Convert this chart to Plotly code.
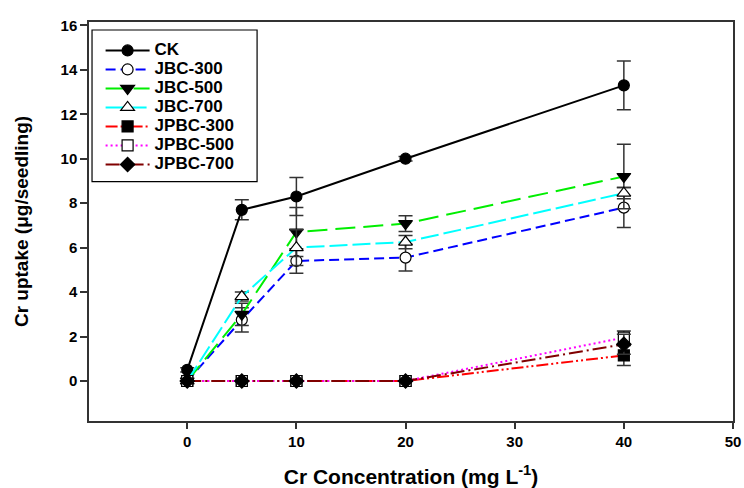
import plotly.graph_objects as go

# Cr concentration in the growth medium (mg/L)
conc = [0, 5, 10, 20, 40]

# Cr uptake (ug/seedling) and standard errors for each treatment
ck = [0.5, 7.7, 8.3, 10.0, 13.3]
ck_err = [0.1, 0.45, 0.85, 0.1, 1.1]

jbc300 = [0.0, 2.75, 5.4, 5.55, 7.8]
jbc300_err = [None, 0.55, 0.55, 0.6, 0.9]

jbc500 = [0.0, 3.0, 6.7, 7.08, 9.2]
jbc500_err = [None, 0.5, 1.1, 0.35, 1.45]

jbc700 = [0.0, 3.8, 6.0, 6.25, 8.45]
jbc700_err = [None, 0.2, 0.8, 0.3, 0.25]

jpbc300 = [0.0, 0.0, 0.0, 0.0, 1.15]
jpbc300_err = [None, None, None, None, 0.45]

jpbc500 = [0.0, 0.0, 0.0, 0.0, 1.95]
jpbc500_err = [None, None, None, None, 0.3]

jpbc700 = [0.0, 0.0, 0.0, 0.0, 1.65]
jpbc700_err = [None, None, None, None, 0.45]

x_ticks = [0, 10, 20, 30, 40, 50]
y_ticks = [0, 2, 4, 6, 8, 10, 12, 14, 16]

FONT = "Arial, Liberation Sans, sans-serif"

series = [
    ("CK", ck, ck_err, "#000000", "solid", "circle"),
    ("JBC-300", jbc300, jbc300_err, "#0000ff", "10px,5px", "circle-open"),
    ("JBC-500", jbc500, jbc500_err, "#00ee00", "20px,8px", "triangle-down"),
    ("JBC-700", jbc700, jbc700_err, "#00ffff", "18px,5px", "triangle-up-open"),
    ("JPBC-300", jpbc300, jpbc300_err, "#ff0000", "12px,3px,2px,3px,2px,3px", "square"),
    ("JPBC-500", jpbc500, jpbc500_err, "#ff00ff", "2px,3px", "square-open"),
    ("JPBC-700", jpbc700, jpbc700_err, "#800000", "14px,4px,2px,4px", "diamond"),
]

fig = go.Figure()
for name, vals, errs, color, dash, symbol in series:
    open_marker = symbol.endswith("-open")
    fig.add_trace(go.Scatter(
        x=conc, y=vals, mode="lines+markers",
        # legend rows are spaced by the small legend font; the label itself is larger
        name=f"<span style='font-size:17px'>{name}</span>",
        line=dict(color=color, width=2, dash=dash),
        marker=dict(
            symbol=symbol.replace("-open", ""),
            size=11 if "triangle" not in symbol else 12,
            color="white" if open_marker else "black",
            line=dict(color="black", width=1.2),
        ),
        error_y=dict(type="data", array=errs, visible=True,
                     color="#333333", thickness=1.5, width=7),
    ))

fig.update_layout(
    width=744, height=488,
    margin=dict(l=89, r=11, t=22, b=67),
    paper_bgcolor="white", plot_bgcolor="white",
    font=dict(family=FONT, color="black"),
    showlegend=True,
    legend=dict(
        x=0.018, y=0.965, xanchor="left", yanchor="top",
        bgcolor="rgba(0,0,0,0)", borderwidth=0,
        font=dict(family=FONT, size=12, color="black", weight="bold"),
        tracegroupgap=0, itemwidth=44,
    ),
    # legend frame
    shapes=[dict(
        type="rect", xref="paper", yref="paper",
        x0=0.0047, x1=0.261, y0=0.600, y1=0.980,
        line=dict(color="black", width=1.2), fillcolor="white", layer="below",
    )],
    xaxis=dict(
        range=[-9, 50], tickvals=x_ticks, ticks="outside", ticklen=6,
        tickwidth=1.5, tickcolor="#333333", automargin=False,
        showline=True, linecolor="#333333", linewidth=1.5, mirror=True,
        showgrid=False, zeroline=False,
        tickfont=dict(family=FONT, size=15, weight="bold"),
        title=dict(text="Cr Concentration (mg L<sup>-1</sup>)", standoff=26,
                   font=dict(family=FONT, size=21, weight="bold")),
    ),
    yaxis=dict(
        range=[-1.8, 16.15], tickvals=y_ticks, ticks="outside", ticklen=7,
        tickwidth=1.5, tickcolor="#333333", automargin=False,
        showline=True, linecolor="#333333", linewidth=1.5, mirror=True,
        showgrid=False, zeroline=False,
        tickfont=dict(family=FONT, size=15, weight="bold"),
        title=dict(text="Cr uptake (μg/seedling)", standoff=27,
                   font=dict(family=FONT, size=19, weight="bold")),
    ),
)

fig.write_html("out.html")
